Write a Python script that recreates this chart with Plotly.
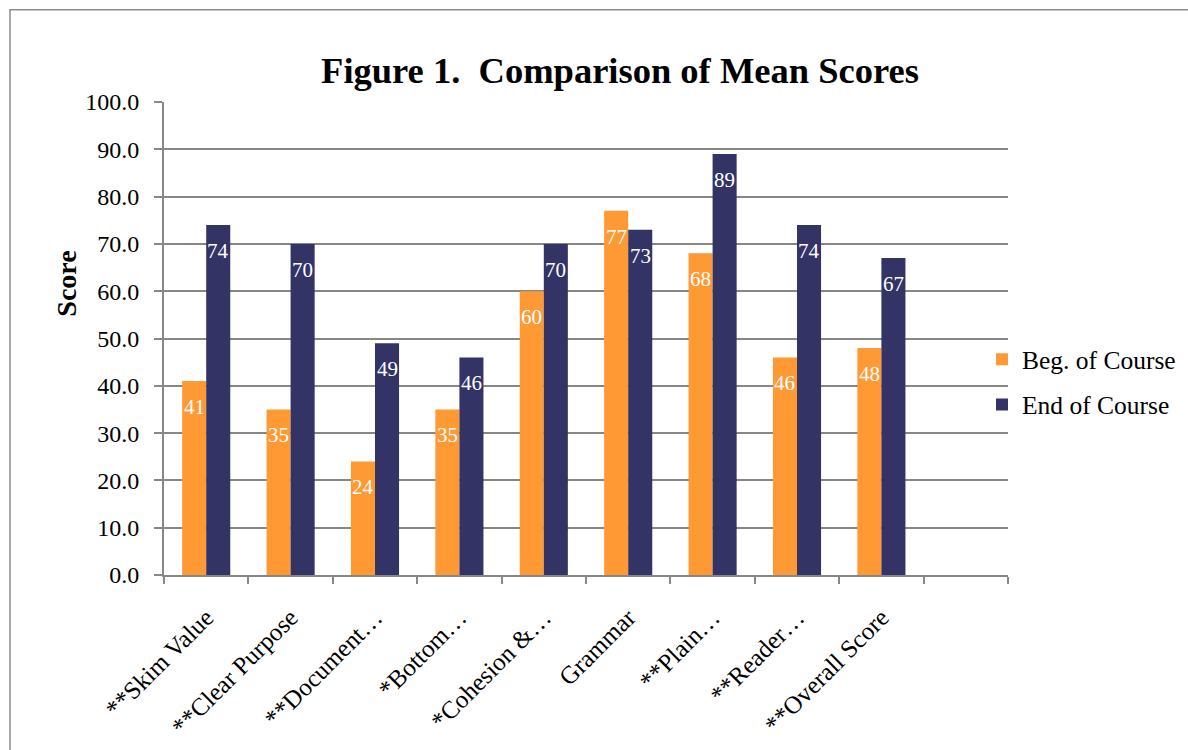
import plotly.graph_objects as go

categories = ["**Skim Value", "**Clear Purpose", "**Document…", "*Bottom…",
              "*Cohesion &…", "Grammar", "**Plain…", "**Reader…", "**Overall Score", " "]
beg_course = [41, 35, 24, 35, 60, 77, 68, 46, 48, None]
end_course = [74, 70, 49, 46, 70, 73, 89, 74, 67, None]
series_names = ["Beg. of Course", "End of Course"]
series_colors = ["#FF9933", "#333366"]
y_ticks = [0, 10, 20, 30, 40, 50, 60, 70, 80, 90, 100]

FONT = "Liberation Serif"
W, H = 1188, 750
L, R, T, B = 164, 180, 101.7, 175
pw, ph = W - L - R, H - T - B

fig = go.Figure()
for name, vals, col, grp in zip(series_names, [beg_course, end_course], series_colors, ["a", "b"]):
    fig.add_trace(go.Bar(x=categories, y=vals, name=name, marker_color=col,
                         marker_line_width=0, legendgroup=grp))

bargap = 0.43
slot = pw / len(categories)
barw = slot * (1 - bargap) / 2
for vals, sh in [(beg_course, -barw / 2), (end_course, barw / 2)]:
    for c, v in zip(categories, vals):
        if v is None:
            continue
        fig.add_annotation(x=c, y=v, text=str(v), showarrow=False, xshift=sh, yshift=-26,
                           xanchor="center", yanchor="middle",
                           font=dict(family=FONT, size=21, color="white"))

# Y-axis title
fig.add_annotation(xref="paper", yref="paper", x=(67 - L) / pw, y=(H - B - 283.5) / ph,
                   text="<b>Score</b>", textangle=-90, showarrow=False,
                   xanchor="center", yanchor="middle",
                   font=dict(family=FONT, size=28, color="black"))

# chart border
fig.add_shape(type="rect", xref="paper", yref="paper",
              x0=(10 - L) / pw, x1=(W + 20 - L) / pw,
              y0=(H - B - H - 20) / ph, y1=(H - B - 9.5) / ph,
              line=dict(color="#8c8c8c", width=1.5), fillcolor="rgba(0,0,0,0)", layer="below")

fig.update_layout(
    width=W, height=H,
    margin=dict(l=L, r=R, t=T, b=B, autoexpand=False),
    paper_bgcolor="white", plot_bgcolor="white",
    barmode="group", bargap=bargap, bargroupgap=0,
    title=dict(text="<b>Figure 1.&nbsp; Comparison of Mean Scores</b>", xref="container", yref="container",
               x=620 / W, y=1 - 70 / H, xanchor="center", yanchor="middle",
               font=dict(family=FONT, size=36.5, color="black")),
    font=dict(family=FONT, size=24, color="black"),
    legend=dict(x=(982 - L) / pw, y=(H - B - 336) / ph, xanchor="left", yanchor="top",
                font=dict(family=FONT, size=25.5, color="black"), tracegroupgap=9,
                bgcolor="rgba(0,0,0,0)", itemwidth=30),
    showlegend=True,
)
fig.update_xaxes(type="category", range=[-0.5, len(categories) - 0.5], tickangle=-45,
                 showline=True, linecolor="#878787", linewidth=2, automargin=False,
                 ticks="outside", tickson="boundaries", ticklen=7, tickcolor="#878787", tickwidth=2,
                 ticklabelstandoff=16,
                 showgrid=False, tickfont=dict(family=FONT, size=25, color="black"))
fig.update_yaxes(range=[0, 100], tickvals=y_ticks, tickformat=".1f", automargin=False,
                 showline=True, linecolor="#878787", linewidth=2,
                 ticks="outside", ticklen=8, tickcolor="#878787", tickwidth=2,
                 ticklabelstandoff=10,
                 showgrid=True, gridcolor="#878787", gridwidth=1.5, zeroline=False,
                 tickfont=dict(family=FONT, size=24, color="black"))

fig.write_html("out.html")
